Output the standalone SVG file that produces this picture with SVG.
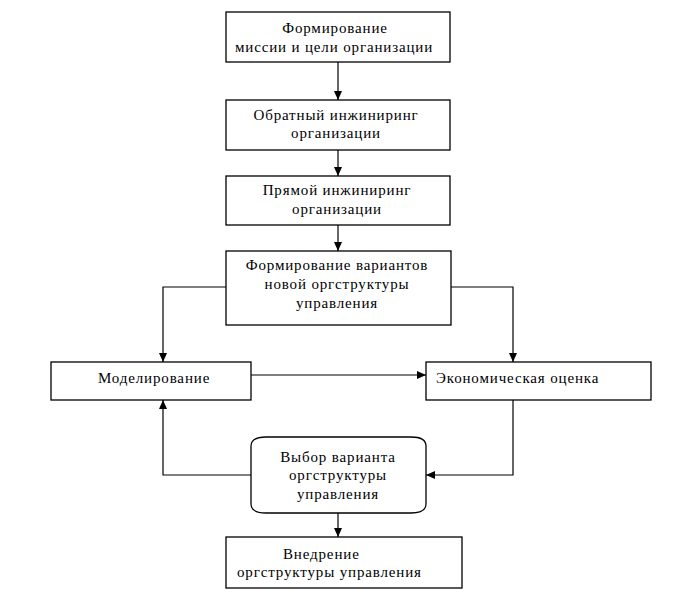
<svg xmlns="http://www.w3.org/2000/svg" width="688" height="601" viewBox="0 0 688 601">
<style>
.box{fill:#fff;stroke:#000;stroke-width:1.3}
.t{font-family:"Liberation Serif","Times New Roman",serif;font-size:15px;letter-spacing:0.85px;fill:#000}
.c{text-anchor:middle}
.ln{fill:none;stroke:#000;stroke-width:1.2}
</style>
<defs>
<marker id="ah" markerWidth="10" markerHeight="10" refX="9" refY="4" orient="auto" markerUnits="userSpaceOnUse">
<path d="M0,0 L9,4 L0,8 Z" fill="#000"/>
</marker>
</defs>
<rect width="688" height="601" fill="#fff"/>
<g id="connectors">
<line class="ln" x1="338" y1="62" x2="338" y2="100" marker-end="url(#ah)"/>
<line class="ln" x1="338" y1="150" x2="338" y2="176" marker-end="url(#ah)"/>
<line class="ln" x1="338" y1="225" x2="338" y2="251" marker-end="url(#ah)"/>
<polyline class="ln" points="226,287 163,287 163,362" marker-end="url(#ah)"/>
<polyline class="ln" points="451,287 513,287 513,362" marker-end="url(#ah)"/>
<line class="ln" x1="251" y1="375" x2="426" y2="375" marker-end="url(#ah)"/>
<polyline class="ln" points="251,475 163,475 163,400" marker-end="url(#ah)"/>
<polyline class="ln" points="513,400 513,475 426,475" marker-end="url(#ah)"/>
<line class="ln" x1="338" y1="513" x2="338" y2="537" marker-end="url(#ah)"/>
</g>
<g id="n1">
<rect class="box" x="226" y="12" width="224" height="50"/>
<text class="t c" x="335" y="33">Формирование</text>
<text class="t c" x="334" y="52">миссии и цели организации</text>
</g>
<g id="n2">
<rect class="box" x="226" y="100" width="224" height="50"/>
<text class="t c" x="336" y="120">Обратный инжиниринг</text>
<text class="t c" x="336" y="138">организации</text>
</g>
<g id="n3">
<rect class="box" x="226" y="176" width="224" height="49"/>
<text class="t c" x="337" y="195">Прямой инжиниринг</text>
<text class="t c" x="337" y="214">организации</text>
</g>
<g id="n4">
<rect class="box" x="226" y="251" width="225" height="74"/>
<text class="t c" x="337" y="270">Формирование вариантов</text>
<text class="t c" x="337" y="289">новой оргструктуры</text>
<text class="t c" x="337" y="308">управления</text>
</g>
<g id="n5">
<rect class="box" x="51" y="362" width="200" height="38"/>
<text class="t" x="98" y="383">Моделирование</text>
</g>
<g id="n6">
<rect class="box" x="426" y="362" width="225" height="38"/>
<text class="t" x="436" y="383">Экономическая оценка</text>
</g>
<g id="n7">
<path class="box" d="M251,446 Q251,437 266,437 L411,437 Q426,437 426,446 L426,504 Q426,513 411,513 L266,513 Q251,513 251,504 Z"/>
<text class="t c" x="338" y="462">Выбор варианта</text>
<text class="t c" x="338" y="480">оргструктуры</text>
<text class="t c" x="338" y="499">управления</text>
</g>
<g id="n8">
<rect class="box" x="226" y="537" width="236" height="51"/>
<text class="t" x="283" y="559">Внедрение</text>
<text class="t" x="237" y="577">оргструктуры управления</text>
</g>
</svg>
